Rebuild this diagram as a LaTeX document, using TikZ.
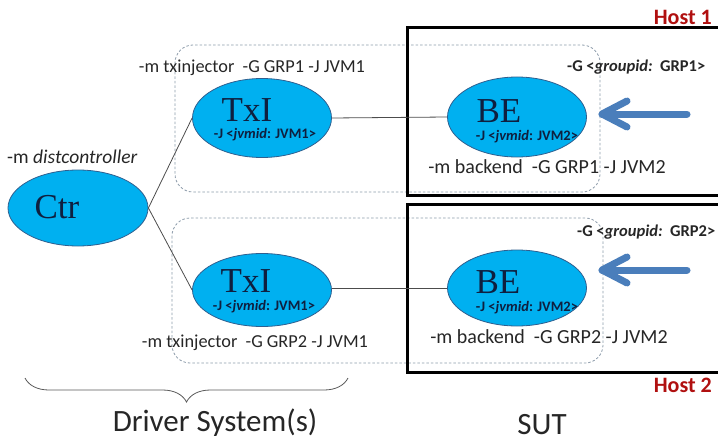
\documentclass[tikz,border=0pt]{standalone}
\usepackage{fontspec}
\setmainfont{Carlito}
\newfontfamily\nodeserif{Liberation Serif}
\usetikzlibrary{shapes.geometric,decorations.pathreplacing,calc}
\definecolor{ellfill}{HTML}{00B0F0}
\definecolor{elldraw}{HTML}{2F5F8F}
\definecolor{dashgray}{HTML}{8C9BAA}
\definecolor{arrowblue}{HTML}{4A7EBB}
\definecolor{hostred}{HTML}{B01010}
\definecolor{txtgray}{HTML}{262626}
\definecolor{navy}{HTML}{0F1F3F}
\tikzset{
  proc/.style={ellipse, fill=ellfill, draw=elldraw, line width=0.8pt, minimum width=139pt, minimum height=78pt, inner sep=0pt},
  bigname/.style={font=\nodeserif\fontsize{35}{35}\selectfont, text=navy, inner sep=0pt},
  jvm/.style={font=\bfseries\fontsize{14.5}{14.5}\selectfont, text=navy, inner sep=0pt},
  cmd/.style={font=\fontsize{19}{19}\selectfont, text=txtgray, inner sep=0pt},
  grp/.style={font=\bfseries\fontsize{16.5}{16.5}\selectfont, text=txtgray, inner sep=0pt},
  host/.style={font=\bfseries\fontsize{22}{22}\selectfont, text=hostred, inner sep=0pt},
  caption/.style={font=\fontsize{31}{31}\selectfont, text=txtgray, inner sep=0pt},
  group/.style={draw=dashgray, dash pattern=on 2.5pt off 2pt, line width=0.8pt, rounded corners=18pt},
  hostbox/.style={draw=black, line width=3pt},
  wire/.style={draw=black!70, line width=0.8pt},
  bigarrow/.style={draw=arrowblue, line width=7pt, line cap=round, line join=round}
}
\begin{document}
\begin{tikzpicture}[x=1pt,y=-1pt]
\useasboundingbox (0,0) rectangle (718,444);
\clip (0,0) rectangle (718,444);
% dashed groups
\draw[group] (175,45) rectangle (600,192);
\draw[group] (172,218) rectangle (603,363);
% host boxes
\draw[hostbox] (407,28) rectangle (740,195);
\draw[hostbox] (407,204) rectangle (740,372);
\node[host, anchor=east] (h1) at (712,17) {Host 1};
\node[host, anchor=east] (h2) at (712,385) {Host 2};
% ellipses
\node[proc, minimum width=140pt, minimum height=76pt] (ctr) at (78,208) {};
\node[proc, minimum height=79pt] (tx1) at (262,118) {};
\node[proc, minimum height=80pt] (be1) at (517,117) {};
\node[proc, minimum height=73pt] (tx2) at (262,290) {};
\node[proc, minimum height=76pt] (be2) at (517,288) {};
% names
\node[bigname] (ctrname) at (57,207.5) {Ctr};
\node[bigname] (tx1name) at (247,110.5) {TxI};
\node[bigname] (be1name) at (499,111.5) {BE};
\node[bigname] (tx2name) at (246,281.5) {TxI};
\node[bigname] (be2name) at (498,282.5) {BE};
\node[jvm] (tx1jvm) at (265,135) {-J <\textit{jvmid}: JVM1>};
\node[jvm] (be1jvm) at (527,137) {-J <\textit{jvmid}: JVM2>};
\node[jvm] (tx2jvm) at (264,307) {-J <\textit{jvmid}: JVM1>};
\node[jvm] (be2jvm) at (527,308) {-J <\textit{jvmid}: JVM2>};
% connectors
\draw[wire] (ctr.east) -- (tx1.west);
\draw[wire] (ctr.east) -- (tx2.west);
\draw[wire] (tx1.east) -- (be1.west);
\draw[wire] (tx2.east |- 0,288) -- (be2.west |- 0,288);
% command labels
\node[cmd, anchor=west, font=\fontsize{19.5}{19.5}\selectfont] (lctr) at (7,157) {-m \textit{distcontroller}};
\node[cmd, font=\fontsize{18.3}{18.3}\selectfont] (ltx1) at (252,68) {-m txinjector\ \ -G GRP1 -J JVM1};
\node[cmd, font=\fontsize{20}{20}\selectfont] (lbe1) at (547,167) {-m backend\ \ -G GRP1 -J JVM2};
\node[cmd, font=\fontsize{18.3}{18.3}\selectfont] (ltx2) at (255,343) {-m txinjector\ \ -G GRP2 -J JVM1};
\node[cmd, font=\fontsize{20}{20}\selectfont] (lbe2) at (549,337) {-m backend\ \ -G GRP2 -J JVM2};
\node[grp, anchor=west] (g1) at (567,67) {-G <\textit{groupid:}\ \ GRP1>};
\node[grp, anchor=west] (g2) at (577,232) {-G <\textit{groupid:}\ \ GRP2>};
% arrows
\coordinate (a1s) at (687,114);
\coordinate (a1t) at (602,114);
\coordinate (a2s) at (687,270);
\coordinate (a2t) at (602,270);
\draw[bigarrow] (a1s) -- (a1t);
\draw[bigarrow] ($(a1t)+(25,-13)$) -- (a1t) -- ($(a1t)+(25,13)$);
\draw[bigarrow] (a2s) -- (a2t);
\draw[bigarrow] ($(a2t)+(25,-13)$) -- (a2t) -- ($(a2t)+(25,13)$);
% brace and captions
\coordinate (brl) at (25,378);
\coordinate (brr) at (348,378);
\draw[draw=black!65, line width=0.8pt, decorate, decoration={brace, mirror, amplitude=24pt, raise=0pt}] (brl) -- (brr);
\node[caption] (drv) at (215,423) {Driver System(s)};
\node[caption] (sut) at (542,425) {SUT};
\end{tikzpicture}
\end{document}
